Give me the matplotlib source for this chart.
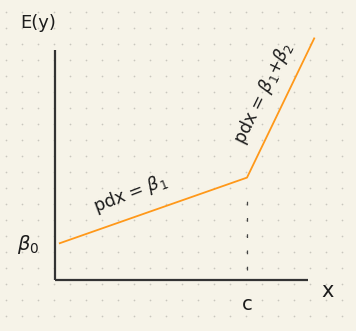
import numpy as np
import matplotlib
matplotlib.use("Agg")
import matplotlib.pyplot as plt

# piecewise linear E(y): intercept, knot at c, then steeper slope
knot_x = [0.3, 12.0, 16.2]
knot_y = [2.3, 6.4, 15.1]
c_value = 12.0
axis_len_x = 15.8
axis_len_y = 14.4

bg = "#f6f3e8"
orange = "#ff9819"
ink = "#1c1c1c"

fig = plt.figure(figsize=(3.56, 3.31), dpi=100, facecolor=bg)
ax = fig.add_axes([0, 0, 1, 1])
ax.set_facecolor(bg)
ax.set_xlim(-55 / 16, 301 / 16)
ax.set_ylim(-51 / 16, 280 / 16)
ax.axis("off")

# dotted notebook grid
gx = np.arange(-3.0625, 19, 1.0)
gy = np.arange(16.75, -3.5, -1.0)
GX, GY = np.meshgrid(gx, gy)
ax.scatter(GX.ravel(), GY.ravel(), s=1.5, color="#c9c7be", linewidths=0, zorder=0)

# hand drawn axes
ax.plot([0, 0], [0, axis_len_y], color="#333333", lw=1.6, solid_capstyle="butt")
ax.plot([0, axis_len_x], [0, 0], color="#333333", lw=1.6, solid_capstyle="butt")

# the regression line
ax.plot(knot_x, knot_y, color=orange, lw=1.3, zorder=3)

# dashed drop line at c
ax.plot([c_value, c_value], [0.6, 5.6], color="#444444", lw=0.9,
        dashes=(3, 10))

ax.text(-1.06, 16.06, "E(y)", fontsize=13, color=ink, ha="center", va="center")
ax.text(-1.69, 2.19, r"$\beta_0$", fontsize=14, color=ink, ha="center", va="center")
ax.text(c_value, -1.56, "c", fontsize=14, color=ink, ha="center", va="center")
ax.text(17.06, -0.69, "x", fontsize=15, color=ink, ha="center", va="center")

ax.text(4.69, 5.4, r"pdx = $\beta_1$", fontsize=12.5, color=ink,
        rotation=21, ha="center", va="center", rotation_mode="anchor")
ax.text(13.05, 11.7, r"pdx = $\beta_1$+$\beta_2$", fontsize=12.5, color=ink,
        rotation=64, ha="center", va="center", rotation_mode="anchor")

fig.savefig("out.png", dpi=100, facecolor=bg)
